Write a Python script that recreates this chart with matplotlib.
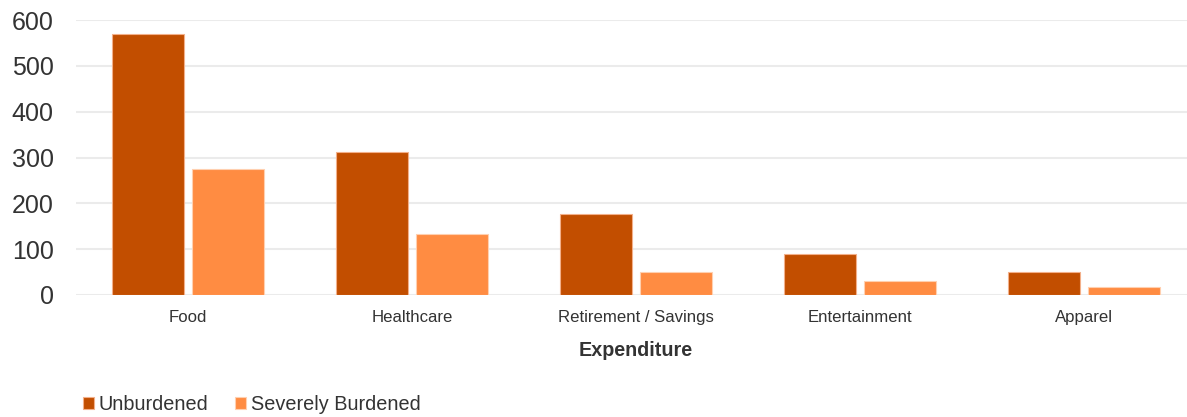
import matplotlib
matplotlib.use("Agg")
import matplotlib.pyplot as plt
import numpy as np

plt.rcParams['font.family'] = ['Liberation Sans', 'DejaVu Sans']

categories = ["Food", "Healthcare", "Retirement / Savings", "Entertainment", "Apparel"]
unburdened = [569, 311, 177, 89, 50]
severely_burdened = [276, 133, 51, 31, 17]
series_names = ["Unburdened", "Severely Burdened"]
y_ticks = [0, 100, 200, 300, 400, 500, 600]

dark = "#C24E00"
light = "#FF8C42"
text_col = "#333333"

fig = plt.figure(figsize=(11.87, 4.17), dpi=100)
ax = fig.add_axes([76 / 1187, 1 - 295 / 417, 1120 / 1187, 275 / 417])

x = np.arange(len(categories))
w = 0.321
off = 0.179
ax.bar(x - off, unburdened, width=w, color=dark, edgecolor="#F3B08A",
       linewidth=0.8, label=series_names[0], zorder=3)
ax.bar(x + off, severely_burdened, width=w, color=light, edgecolor="#FFD0B0",
       linewidth=0.8, label=series_names[1], zorder=3)

ax.set_xlim(-0.5, len(categories) - 0.5)
ax.set_ylim(0, 600)
ax.set_yticks(y_ticks)
ax.set_yticklabels([str(v) for v in y_ticks], fontsize=18, color=text_col)
ax.set_xticks(x)
ax.set_xticklabels(categories, fontsize=12.1, color=text_col)
ax.tick_params(axis="y", length=0, pad=16)
ax.tick_params(axis="x", length=0, pad=11)
ax.grid(axis="y", color="#EBEBEB", linewidth=1.5, zorder=0)
ax.set_axisbelow(True)
for s in ax.spines.values():
    s.set_visible(False)

ax.set_xlabel("Expenditure", fontsize=14.2, fontweight="bold", color=text_col,
              labelpad=11)

handles, labels = ax.get_legend_handles_labels()
fig.legend(handles, labels, loc="center left", bbox_to_anchor=(65 / 1187, 1 - 405 / 417),
           ncol=2, frameon=False, fontsize=14.3, handlelength=0.55, handleheight=0.55,
           handletextpad=0.25, columnspacing=1.35, labelcolor=text_col)

fig.savefig("out.png", dpi=100, facecolor="white")
